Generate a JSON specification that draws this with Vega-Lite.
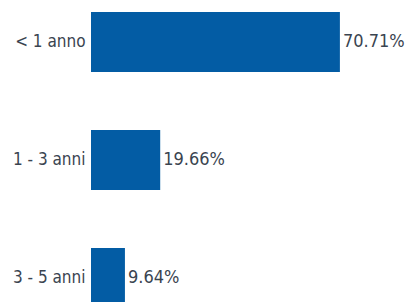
{
  "$schema": "https://vega.github.io/schema/vega-lite/v6.json",
  "autosize": "none",
  "width": 352,
  "height": 320,
  "padding": {"left": 91, "top": 0, "right": 0, "bottom": 0},
  "background": "white",
  "config": {"view": {"stroke": null}, "font": "DejaVu Sans Condensed"},
  "data": {"values": [
    {"cat": "< 1 anno", "share": 0.7071},
    {"cat": "1 - 3 anni", "share": 0.1966},
    {"cat": "3 - 5 anni", "share": 0.0964}
  ]},
  "encoding": {
    "y": {"field": "cat", "type": "nominal", "sort": null,
      "scale": {"paddingInner": 0.4915, "paddingOuter": 0.1017},
      "axis": {"title": null, "domain": false, "ticks": false, "labelPadding": 6, "labelFontSize": 17, "labelColor": "#3a4450", "labelFont": "DejaVu Sans Condensed"}},
    "x": {"field": "share", "type": "quantitative", "scale": {"domain": [0, 1]}, "axis": null}
  },
  "layer": [
    {"mark": {"type": "bar", "color": "#035ca4"}},
    {"mark": {"type": "text", "align": "left", "dx": 3, "fontSize": 18, "color": "#3a4450", "font": "DejaVu Sans Condensed"},
     "encoding": {"text": {"field": "share", "type": "quantitative", "format": ".2%"}}}
  ]
}
